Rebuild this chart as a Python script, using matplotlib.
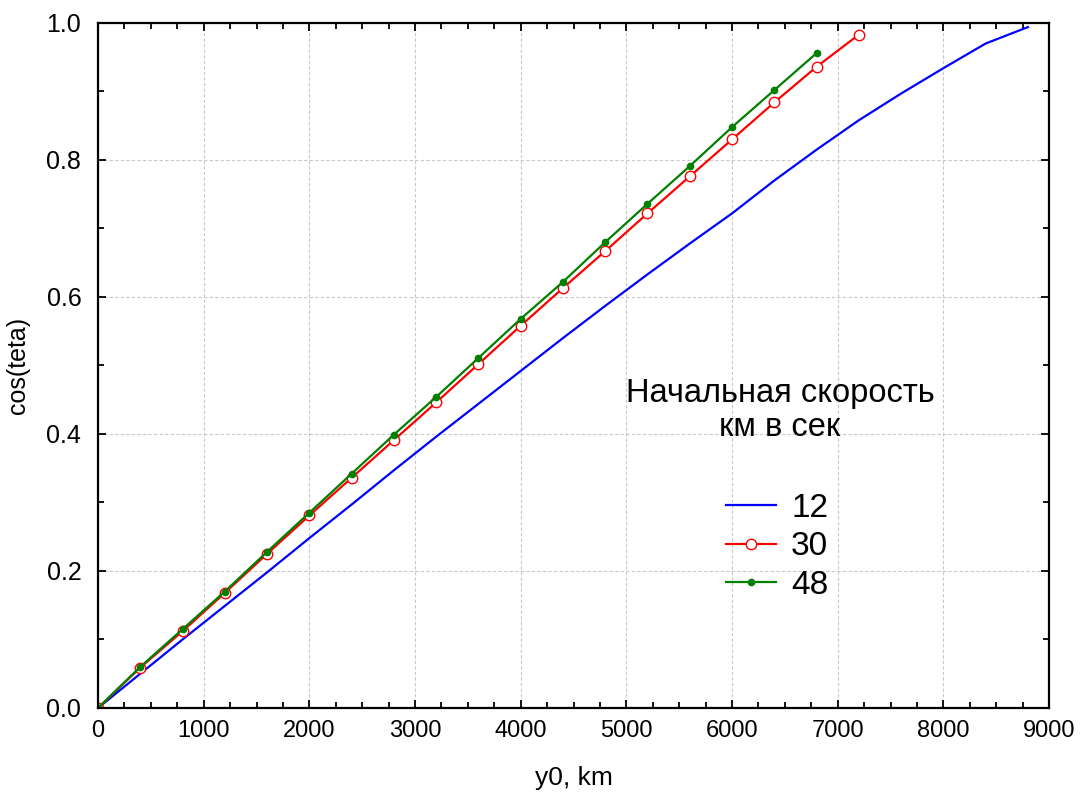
import numpy as np
import matplotlib
matplotlib.use("Agg")
import matplotlib.pyplot as plt
from matplotlib.ticker import MultipleLocator

# ---------- DATA ----------
x_12 = [0, 400, 800, 1200, 1600, 2000, 2400, 2800, 3200, 3600, 4000, 4400,
        4800, 5200, 5600, 6000, 6400, 6800, 7200, 7600, 8000, 8400, 8800]
y_12 = [0.0, 0.050, 0.100, 0.149, 0.198, 0.248, 0.297, 0.347, 0.396, 0.444,
        0.492, 0.540, 0.587, 0.633, 0.678, 0.722, 0.770, 0.815, 0.858, 0.897,
        0.934, 0.970, 0.994]

x_30 = [0, 400, 800, 1200, 1600, 2000, 2400, 2800, 3200, 3600, 4000, 4400,
        4800, 5200, 5600, 6000, 6400, 6800, 7200]
y_30 = [0.0, 0.059, 0.112, 0.168, 0.225, 0.281, 0.336, 0.391, 0.446, 0.502,
        0.558, 0.613, 0.667, 0.722, 0.776, 0.830, 0.884, 0.936, 0.983]

x_48 = [0, 400, 800, 1200, 1600, 2000, 2400, 2800, 3200, 3600, 4000, 4400,
        4800, 5200, 5600, 6000, 6400, 6800]
y_48 = [0.0, 0.060, 0.115, 0.170, 0.228, 0.285, 0.342, 0.399, 0.454, 0.511,
        0.568, 0.622, 0.680, 0.736, 0.791, 0.848, 0.902, 0.956]

labels = ["12", "30", "48"]
legend_title = "Начальная скорость\nкм в сек"
# --------------------------

plt.rcParams['font.family'] = ['Liberation Sans', 'DejaVu Sans']

fig = plt.figure(figsize=(10.89, 7.98), dpi=100)
ax = fig.add_axes([0.090, 0.1128, 0.8733, 0.8584])

ax.plot(x_12, y_12, color="blue", lw=1.6, label=labels[0])
ax.plot(x_30, y_30, color="red", lw=1.6, marker="o", ms=7.5,
        mfc="white", mec="red", mew=1.0, label=labels[1])
ax.plot(x_48, y_48, color="green", lw=1.6, marker="o", ms=4.5,
        mfc="green", mec="green", label=labels[2])

ax.set_xlim(0, 9000)
ax.set_ylim(0, 1.0)
ax.xaxis.set_major_locator(MultipleLocator(1000))
ax.xaxis.set_minor_locator(MultipleLocator(250))
ax.yaxis.set_major_locator(MultipleLocator(0.2))
ax.yaxis.set_minor_locator(MultipleLocator(0.1))
ax.yaxis.set_major_formatter(plt.FormatStrFormatter("%.1f"))

ax.tick_params(which="both", direction="in", top=True, right=True, width=1.3)
ax.tick_params(which="major", length=6)
ax.tick_params(which="minor", length=4)
ax.tick_params(axis="x", which="major", labelsize=17, pad=9)
ax.tick_params(axis="y", which="major", labelsize=18, pad=12)
for sp in ax.spines.values():
    sp.set_linewidth(1.6)

ax.grid(True, which="major", color="#c8c8c8", linestyle=(0, (3, 2)), lw=0.8)
ax.set_axisbelow(True)

ax.set_xlabel("y0, km", fontsize=19, labelpad=17)
ax.set_ylabel("cos(teta)", fontsize=18, labelpad=12)

ax.text(0.717, 0.434, legend_title, transform=ax.transAxes, fontsize=23.5,
        ha="center", va="center", linespacing=1.15)
leg = ax.legend(loc="upper left", bbox_to_anchor=(0.643, 0.338), frameon=False,
                fontsize=24, handlelength=1.5, handletextpad=0.45,
                labelspacing=0.22, borderpad=0)

fig.savefig("out.png", dpi=100)
